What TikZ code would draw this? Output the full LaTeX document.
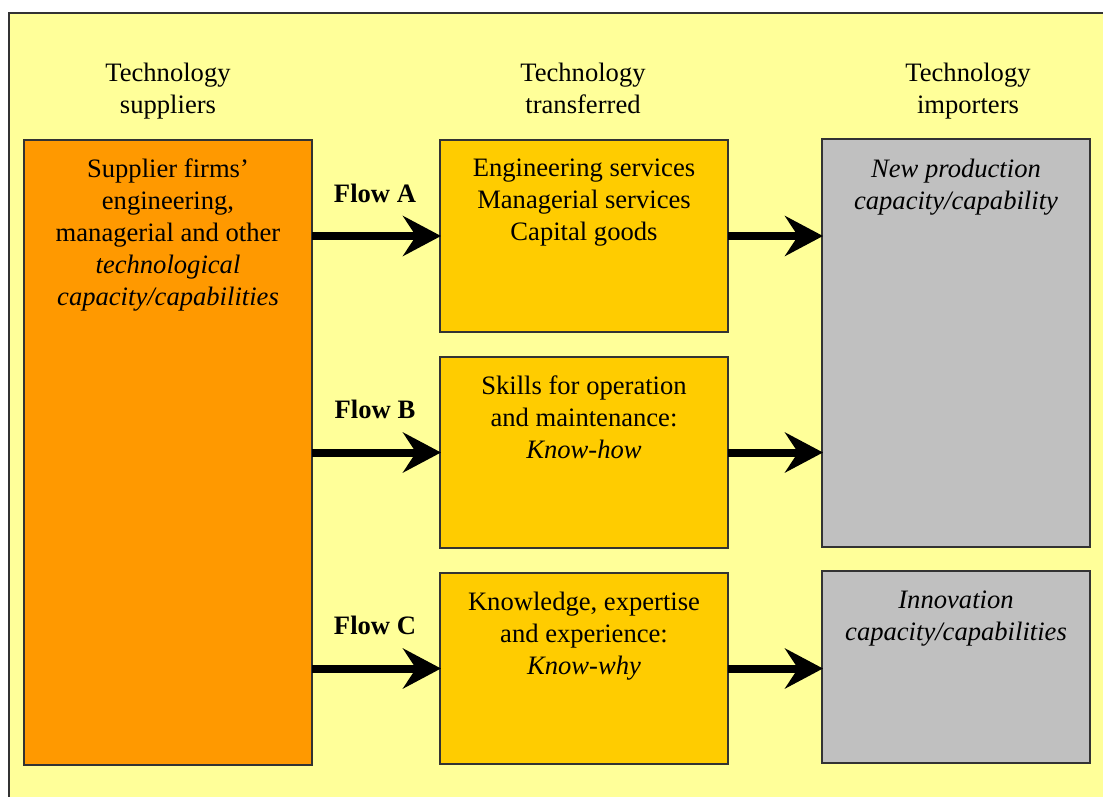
\documentclass[tikz,border=0pt]{standalone}
\usepackage{fontspec}
\setmainfont{Liberation Serif}
\usetikzlibrary{arrows.meta}
\definecolor{bgyellow}{HTML}{FFFF99}
\definecolor{orangefill}{HTML}{FF9900}
\definecolor{goldfill}{HTML}{FFCC00}
\definecolor{grayfill}{HTML}{C0C0C0}
\definecolor{edge}{HTML}{333333}
\begin{document}
\begin{tikzpicture}[x=1pt,y=-1pt,
  box/.style={draw=edge, line width=1.2pt, anchor=north west, inner sep=0pt, outer sep=0pt},
  txt/.style={anchor=north, inner sep=0pt, align=center, font=\fontsize{26.6}{32}\selectfont},
  flowlbl/.style={anchor=base, inner sep=0pt, font=\fontsize{26.6}{32}\selectfont\bfseries},
  arr/.style={line width=8pt, -{Stealth[length=38pt,width=40pt,inset=13pt]}, shorten >=-1pt}
]
\useasboundingbox (0,0) rectangle (1103,796);
\fill[bgyellow] (8,12) rectangle (1110,800);
\draw[line width=1.5pt, black!80] (8.75,800) -- (8.75,12.75) -- (1110,12.75);

% headers
\node[txt] (h1) at (168,63) {Technology\\suppliers};
\node[txt] (h2) at (583,63) {Technology\\transferred};
\node[txt] (h3) at (968,63) {Technology\\importers};

% boxes
\node[box, fill=orangefill, minimum width=288pt, minimum height=625pt] (sup) at (24,140) {};
\node[box, fill=goldfill, minimum width=288pt, minimum height=192pt] (a) at (440,140) {};
\node[box, fill=goldfill, minimum width=288pt, minimum height=191pt] (b) at (440,357) {};
\node[box, fill=goldfill, minimum width=288pt, minimum height=191pt] (c) at (440,573) {};
\node[box, fill=grayfill, minimum width=268pt, minimum height=408pt] (imp) at (822,139) {};
\node[box, fill=grayfill, minimum width=268pt, minimum height=192pt] (inn) at (822,571) {};

% box texts
\node[txt] (suptxt) at (168,159) {Supplier firms’\\engineering,\\managerial and other\\\textit{technological}\\\textit{capacity/capabilities}};
\node[txt] (atxt) at (584,159) {Engineering services\\Managerial services\\Capital goods};
\node[txt] (btxt) at (584,376) {Skills for operation\\and maintenance:\\\textit{Know-how}};
\node[txt] (ctxt) at (584,592) {Knowledge, expertise\\and experience:\\\textit{Know-why}};
\node[txt] (imptxt) at (956,159) {\textit{New production}\\\textit{capacity/capability}};
\node[txt] (inntxt) at (956,591) {\textit{Innovation}\\\textit{capacity/capabilities}};

% flow labels
\node[flowlbl] (fa) at (375,202) {Flow A};
\node[flowlbl] (fb) at (375,418) {Flow B};
\node[flowlbl] (fc) at (375,634) {Flow C};

% arrows
\draw[arr] (sup.east |- a.west) -- (a.west);
\draw[arr] (sup.east |- b.west) -- (b.west);
\draw[arr] (sup.east |- c.west) -- (c.west);
\draw[arr] (a.east) -- (imp.west |- a.east);
\draw[arr] (b.east) -- (imp.west |- b.east);
\draw[arr] (c.east) -- (inn.west |- c.east);
\end{tikzpicture}
\end{document}
